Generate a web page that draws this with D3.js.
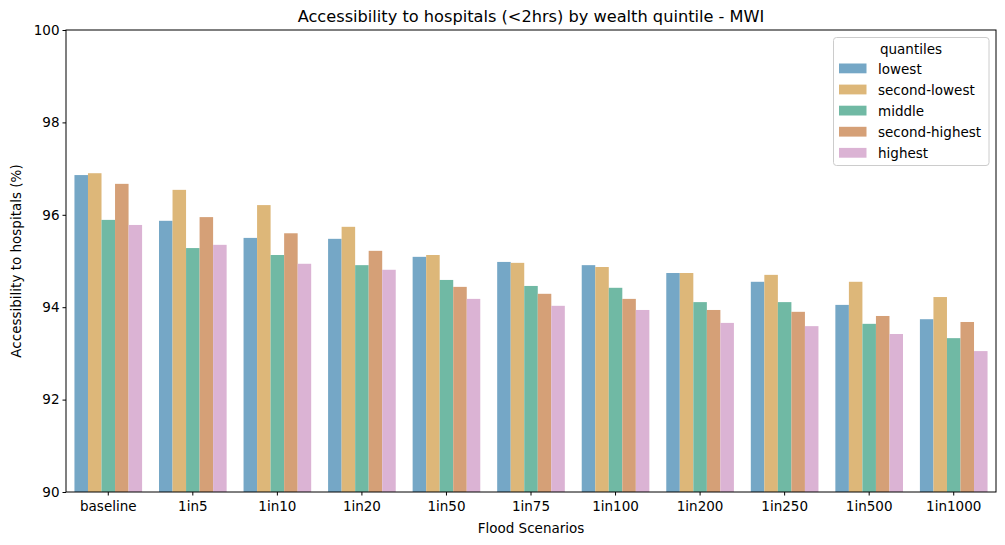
<!DOCTYPE html>
<html><head><meta charset="utf-8">
<script src="https://cdn.jsdelivr.net/npm/d3@7"></script>
<style>body{margin:0;background:#fff;} text{font-family:"DejaVu Sans",sans-serif;}</style>
</head><body>
<svg id="c" width="1005" height="545"></svg>
<script>
const categories = ["baseline","1in5","1in10","1in20","1in50","1in75","1in100","1in200","1in250","1in500","1in1000"];
const quantiles = ["lowest","second-lowest","middle","second-highest","highest"];
const lowest        = [96.86,95.87,95.50,95.48,95.09,94.98,94.91,94.74,94.55,94.05,93.74];
const secondLowest  = [96.90,96.54,96.21,95.74,95.13,94.96,94.87,94.74,94.70,94.55,94.22];
const middle        = [95.89,95.28,95.13,94.91,94.59,94.46,94.42,94.11,94.11,93.64,93.33];
const secondHighest = [96.67,95.95,95.60,95.22,94.44,94.29,94.18,93.94,93.90,93.81,93.68];
const highest       = [95.78,95.35,94.94,94.81,94.18,94.03,93.94,93.66,93.59,93.42,93.05];
const yTicks = [90,92,94,96,98,100];
const colors = ["#75a7c6","#ddb779","#70b9a4","#d5a077","#dbb3d4"];
const seriesVals = [lowest,secondLowest,middle,secondHighest,highest];

const svg = d3.select("#c");
const L=66, R=996, T=30, B=492;
const FS = 13.5;
const x = d3.scaleBand().domain(categories).range([L,R]).padding(0);
const y = d3.scaleLinear().domain([90,100]).range([B,T]);

// bars
quantiles.forEach((q,qi)=>{
  svg.append("g").selectAll("rect").data(categories).join("rect")
    .attr("x",(c)=>x(c)+x.bandwidth()*0.1+ qi*x.bandwidth()*0.8/5)
    .attr("width",x.bandwidth()*0.8/5)
    .attr("y",(c,i)=>y(seriesVals[qi][i]))
    .attr("height",(c,i)=>B-y(seriesVals[qi][i]))
    .attr("fill",colors[qi]);
});

// axes
const xa = svg.append("g").attr("transform",`translate(0,${B})`)
  .call(d3.axisBottom(x).tickSize(3.5).tickSizeOuter(0));
const ya = svg.append("g").attr("transform",`translate(${L},0)`)
  .call(d3.axisLeft(y).tickValues(yTicks).tickFormat(d3.format("d")).tickSize(3.5).tickSizeOuter(0));
[xa,ya].forEach(a=>{a.select(".domain").remove();a.selectAll("text").attr("font-size",FS).attr("fill","#000").attr("font-family","DejaVu Sans");a.selectAll("line").attr("stroke","#000");});
xa.selectAll("text").attr("dy","0.95em");
ya.selectAll("text").attr("x",-6.5);
// frame
svg.append("rect").attr("x",L).attr("y",T).attr("width",R-L).attr("height",B-T)
  .attr("fill","none").attr("stroke","#000").attr("stroke-width",1);

// labels
svg.append("text").attr("x",(L+R)/2).attr("y",22).attr("text-anchor","middle").attr("font-size",16.2).text("Accessibility to hospitals (<2hrs) by wealth quintile - MWI");
svg.append("text").attr("x",(L+R)/2).attr("y",533).attr("text-anchor","middle").attr("font-size",FS).text("Flood Scenarios");
svg.append("text").attr("transform",`translate(21,${(T+B)/2}) rotate(-90)`).attr("text-anchor","middle").attr("font-size",FS).text("Accessibility to hospitals (%)");

// legend
const lg = svg.append("g");
lg.append("rect").attr("x",833.5).attr("y",37.5).attr("width",155.5).attr("height",128).attr("rx",3)
  .attr("fill","#fff").attr("fill-opacity",0.8).attr("stroke","#ccc");
lg.append("text").attr("x",911).attr("y",53.5).attr("text-anchor","middle").attr("font-size",FS).text("quantiles");
quantiles.forEach((q,i)=>{
  const yy = 63.5+i*21.1;
  lg.append("rect").attr("x",839).attr("y",yy).attr("width",27.5).attr("height",9.8).attr("fill",colors[i]);
  lg.append("text").attr("x",878).attr("y",yy+10.5).attr("font-size",FS).text(q);
});
</script>
</body></html>
